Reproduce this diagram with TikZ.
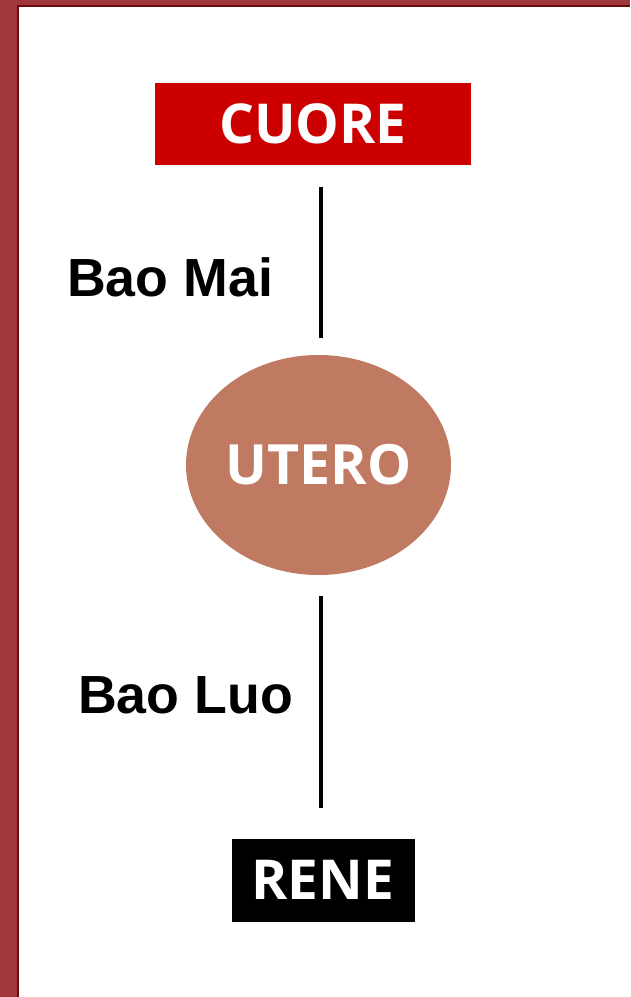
\documentclass[tikz,border=0pt]{standalone}
\usepackage{fontspec}
\setmainfont{Open Sans}
\newfontfamily\arialbold{Liberation Sans}[BoldFont={* Bold}]
\usetikzlibrary{shapes.geometric}
\definecolor{frame}{HTML}{A0383B}
\definecolor{frameline}{HTML}{6E0A0C}
\definecolor{cuore}{HTML}{CC0000}
\definecolor{utero}{HTML}{C07A62}
\tikzset{
  boxnode/.style={rectangle, inner sep=0pt, text=white, font=\fontsize{55}{55}\selectfont\bfseries},
  linkline/.style={line width=4.5pt, black},
  label/.style={anchor=base west, inner sep=0pt, font=\arialbold\bfseries\fontsize{53.7}{54}\selectfont}
}
\begin{document}
\begin{tikzpicture}[x=1pt,y=-1pt]
\useasboundingbox (0,0) rectangle (630,997);
\fill[frame] (0,0) rectangle (630,997);
\fill[frameline] (17,5) rectangle (630,7);
\fill[frameline] (17,5) rectangle (19,997);
\fill[white] (19,7) rectangle (630,997);

\node[boxnode, fill=cuore, minimum width=316pt, minimum height=82pt] (cuore) at (313,124) {CUORE};
\node[ellipse, fill=utero, inner sep=0pt, minimum width=265pt, minimum height=220pt,
      text=white, font=\fontsize{55.5}{55}\selectfont\bfseries] (utero) at (318.5,465) {UTERO};
\node[boxnode, fill=black, minimum width=183pt, minimum height=83pt] (rene) at (323,880) {RENE};

\coordinate (a1) at (321,187);
\coordinate (a2) at (321,338);
\coordinate (b1) at (321,596);
\coordinate (b2) at (321,808);
\draw[linkline] (a1) -- (a2);
\draw[linkline] (b1) -- (b2);

\node[label] (baomai) at (67,296) {Bao Mai};
\node[label] (baoluo) at (78,713) {Bao Luo};
\end{tikzpicture}
\end{document}
